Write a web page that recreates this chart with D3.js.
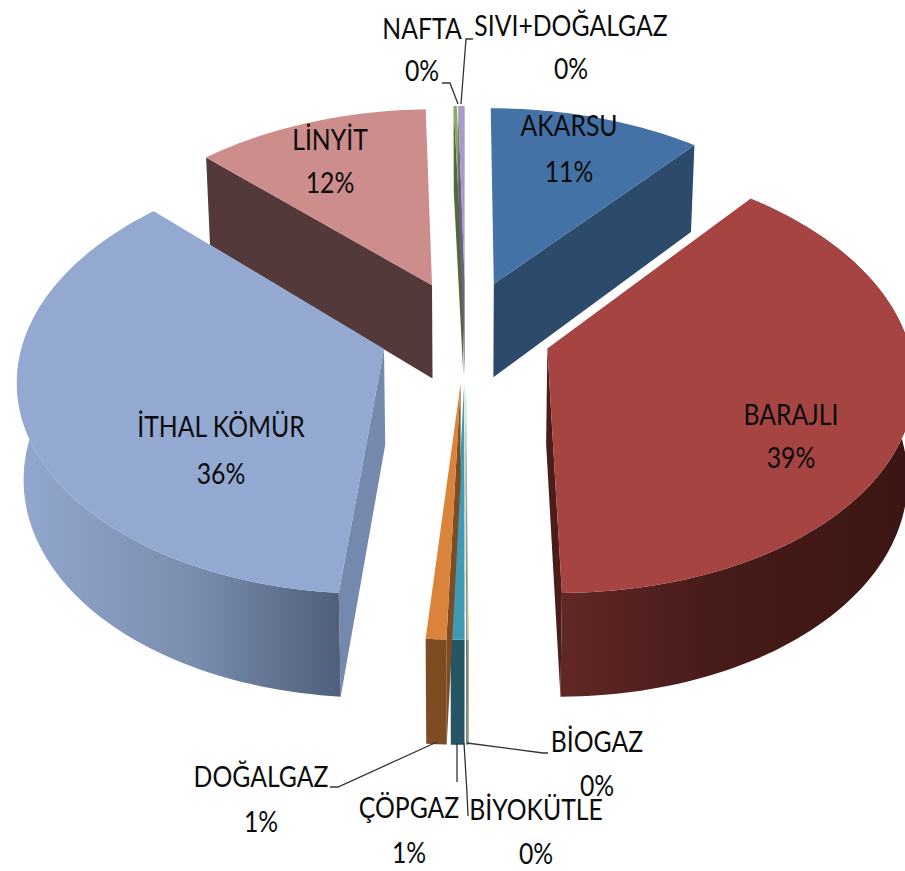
<!DOCTYPE html>
<html><head><meta charset="utf-8">
<script src="https://cdn.jsdelivr.net/npm/d3@7"></script>
<style>html,body{margin:0;padding:0;background:#fff;overflow:hidden}svg{display:block}
text{font-family:Lato,"Noto Sans",sans-serif;font-size:29.5px;fill:#0b0b0b;text-anchor:middle}</style>
</head><body><svg id="c" width="905" height="871"></svg>
<script>
const categories=["AKARSU","BARAJLI","BİOGAZ","BİYOKÜTLE","ÇÖPGAZ","DOĞALGAZ","İTHAL KÖMÜR","LİNYİT","NAFTA","SIVI+DOĞALGAZ"];
const values=[11.0,38.9,0.05,0.03,0.52,0.78,36.12,12.09,0.17,0.34];
const percentLabels=["11%","39%","0%","0%","1%","1%","36%","12%","0%","0%"];
const topColors=["#4471a6","#a64442","#a9c46c","#8a79a8","#3f9ab3","#d9833b","#93a9d2","#cd8d8c","#8aab5c","#a99bc8"];
const sideColors=["#2c4a6b","#4a1c1a","#6d8040","#5a4d70","#255666","#7d4c22","#7489ad","#53393a","#4f6a38","#6d6086"];
// label layout: centre x, first-line baseline, second-line baseline
const labelX=[569,791,597,536,409,261,221,330,422,571];
const labelY1=[136,425,752,820,818,787,437,150,39,36];
const labelY2=[182,468,796,864,863,832,484,193,81,79];
// leader lines, for the labels outside the pie
const leaders={2:[[467,743],[543,753],[548,753]],3:[[464,743],[467,793],[468,816]],4:[[457,743],[457,782]],
 5:[[437,742],[338,787],[330,787]],8:[[458,104],[450,83],[442,83]],9:[[461,104],[466,39],[473,39]]};

const cx=465.5,cy=331,R=350,E=86,K=0.597,P=0.00036,D=95,DC=0.000244,SHRINK=0.985,RX=1.025;
const svg=d3.select("#c"),defs=svg.append("defs");
function grad(id,stops,x1,x2){const g=defs.append("linearGradient").attr("id",id).attr("gradientUnits","userSpaceOnUse")
 .attr("x1",x1).attr("x2",x2).attr("y1",0).attr("y2",0);
 stops.forEach(s=>g.append("stop").attr("offset",s[0]).attr("stop-color",s[1]));}
grad("wall1",[[0,"#622826"],[0.45,"#471b19"],[1,"#3c1614"]],558,905);
grad("wall6",[[0,"#93a8cf"],[0.55,"#7a8dae"],[1,"#50607b"]],15,340);

const pie=d3.pie().sort(null).value(d=>d);
const arcs=pie(values);
function project(u,v,h){const s=1/(1-P*v);
 const x=u*s,y=K*v*s;
 const dep=h?D*(1+DC*v):0;
 const f=h?SHRINK:1;
 return [cx+x*f,cy+y+dep];}
const line=d3.line();
function slicePts(a){const mid=(a.startAngle+a.endAngle)/2;
 const ou=E*Math.sin(mid),ov=-E*Math.cos(mid);
 const n=Math.max(2,Math.ceil((a.endAngle-a.startAngle)*40));
 const ang=d3.range(n+1).map(i=>a.startAngle+(a.endAngle-a.startAngle)*i/n);
 const pt=(t,r,h)=>project(ou+r*RX*Math.sin(t),ov-r*Math.cos(t),h);
 return {ang,pt,mid};}
const order=[7,8,9,0,1,6,2,3,4,5];
order.forEach(i=>{const a=arcs[i],{ang,pt,mid}=slicePts(a);
 const g=svg.append("g");
 const side=sideColors[i];
 const apexT=pt(0,0,false),apexB=pt(0,0,true);
 const cut=mid>Math.PI?ang[0]:ang[ang.length-1];
 g.append("path").attr("d",line([apexT,pt(cut,R,false),pt(cut,R,true),apexB])+"Z").attr("fill",side);
 if(Math.cos(mid)<0){
  const wall=(i==1||i==6)?`url(#wall${i})`:side;
  g.append("path").attr("d",line(ang.map(t=>pt(t,R,false)).concat(ang.slice().reverse().map(t=>pt(t,R,true))))+"Z").attr("fill",wall);
 }
 g.append("path").attr("d",line([apexT].concat(ang.map(t=>pt(t,R,false))))+"Z").attr("fill",topColors[i]);
});
Object.keys(leaders).forEach(k=>svg.append("path").attr("d",line(leaders[k])).attr("fill","none").attr("stroke","#333").attr("stroke-width",1.3));
const label=(x,y,t)=>svg.append("text").attr("transform",`translate(${x},${y}) scale(0.84,1)`).text(t);
categories.forEach((c,i)=>{
 label(labelX[i],labelY1[i],c);
 label(labelX[i],labelY2[i],percentLabels[i]);
});
</script></body></html>
